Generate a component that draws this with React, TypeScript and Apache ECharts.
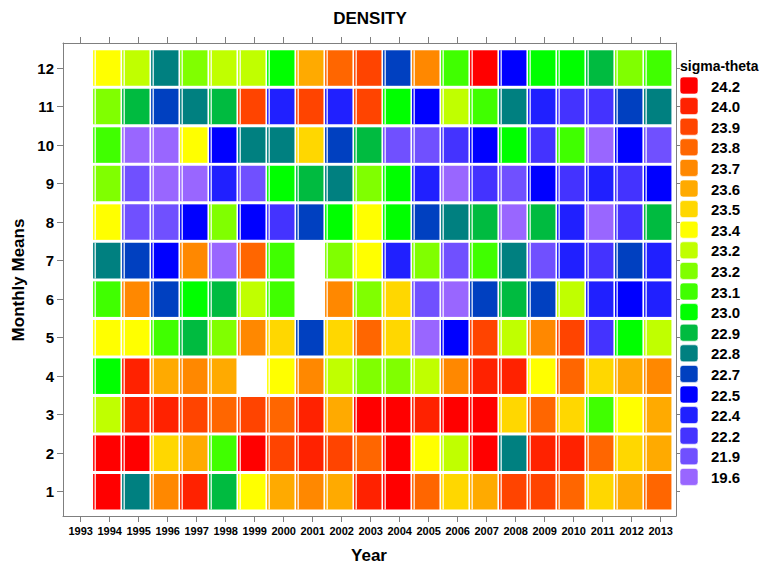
import React, { useEffect, useRef } from "react";
import * as echarts from "echarts";

// Years with data (the 1993 column is empty)
const years = [1994, 1995, 1996, 1997, 1998, 1999, 2000, 2001, 2002, 2003, 2004, 2005, 2006, 2007, 2008, 2009, 2010, 2011, 2012, 2013];
const months = [1, 2, 3, 4, 5, 6, 7, 8, 9, 10, 11, 12];
const xTickYears = [1993, 1994, 1995, 1996, 1997, 1998, 1999, 2000, 2001, 2002, 2003, 2004, 2005, 2006, 2007, 2008, 2009, 2010, 2011, 2012, 2013];

// sigma-theta classes (legend, top to bottom)
const legendLabels = ["24.2", "24.0", "23.9", "23.8", "23.7", "23.6", "23.5", "23.4", "23.2", "23.2", "23.1", "23.0", "22.9", "22.8", "22.7", "22.5", "22.4", "22.2", "21.9", "19.6"];
const levelValues = [24.2, 24.0, 23.9, 23.8, 23.7, 23.6, 23.5, 23.4, 23.25, 23.15, 23.1, 23.0, 22.9, 22.8, 22.7, 22.5, 22.4, 22.2, 21.9, 19.6];
const levelColors = ["#FF0000", "#FF2200", "#FF4400", "#FF6600", "#FF8800", "#FFAA00", "#FFD700", "#FFFF00", "#C0FF00", "#80FF00", "#40FF00", "#00FF00", "#00BB40", "#008080", "#0040C0", "#0000FF", "#2020FF", "#4433FF", "#7050FF", "#9966FF"];

// Monthly mean sigma-theta, one array per month, years 1994..2013
const m1 = [24.2, 22.8, 23.7, 24.0, 22.9, 23.4, 23.6, 23.7, 23.6, 24.0, 24.2, 23.8, 23.5, 23.6, 23.9, 23.9, 23.8, 23.5, 23.6, 23.8];
const m2 = [24.2, 24.2, 23.5, 23.6, 23.1, 24.2, 23.9, 24.0, 23.9, 23.8, 24.2, 23.4, 23.25, 24.2, 22.8, 24.0, 24.0, 23.8, 23.5, 23.6];
const m3 = [23.25, 24.0, 24.0, 23.9, 23.8, 23.9, 23.8, 24.0, 23.6, 24.2, 24.2, 24.0, 24.2, 24.2, 23.5, 23.8, 23.5, 23.1, 23.4, 23.6];
const m4 = [23.0, 24.0, 23.6, 23.7, 23.6, null, 23.4, 23.7, 23.25, 23.15, 23.15, 23.25, 23.7, 24.0, 24.0, 23.4, 23.8, 23.5, 23.6, 23.7];
const m5 = [23.4, 23.4, 23.1, 22.9, 23.15, 23.7, 23.5, 22.7, 23.5, 23.8, 23.5, 19.6, 22.5, 23.9, 23.25, 23.7, 23.9, 22.2, 23.0, 23.25];
const m6 = [23.1, 23.7, 22.7, 23.0, 22.9, 23.25, 23.1, null, 23.7, 23.15, 23.5, 21.9, 19.6, 22.7, 22.9, 22.7, 23.25, 22.4, 22.5, 22.4];
const m7 = [22.8, 22.7, 22.5, 23.7, 19.6, 23.8, 23.1, null, 23.15, 23.4, 22.4, 23.15, 21.9, 23.1, 22.8, 21.9, 22.4, 22.2, 22.7, 22.4];
const m8 = [23.4, 21.9, 21.9, 22.5, 23.15, 22.5, 22.2, 22.7, 23.0, 23.4, 23.0, 22.7, 22.8, 22.9, 19.6, 22.9, 22.4, 19.6, 22.2, 22.9];
const m9 = [23.15, 21.9, 19.6, 19.6, 22.4, 21.9, 23.0, 22.9, 22.8, 23.15, 23.0, 22.4, 19.6, 22.2, 21.9, 22.5, 22.2, 22.4, 22.2, 22.5];
const m10 = [23.1, 19.6, 19.6, 23.4, 22.5, 22.8, 22.8, 23.5, 22.7, 22.9, 21.9, 21.9, 22.2, 22.5, 23.0, 22.2, 23.1, 19.6, 22.5, 21.9];
const m11 = [23.15, 22.9, 22.7, 22.8, 22.9, 23.9, 22.4, 23.9, 22.4, 23.9, 23.0, 22.5, 23.25, 23.1, 22.8, 22.4, 22.2, 22.2, 22.7, 22.8];
const m12 = [23.4, 23.25, 22.8, 23.15, 23.25, 23.25, 23.0, 23.6, 23.8, 23.9, 22.7, 23.7, 23.1, 24.2, 22.5, 23.0, 23.0, 22.9, 23.15, 23.1];
const monthRows = [m1, m2, m3, m4, m5, m6, m7, m8, m9, m10, m11, m12];

const FONT = "'Liberation Sans', Arial, sans-serif";
const AXIS_GRAY = "#7f7f7f";

function colorFor(v: number): string {
  let best = 0;
  let bd = Infinity;
  levelValues.forEach((lv, i) => {
    const d = Math.abs(lv - v);
    if (d < bd) {
      bd = d;
      best = i;
    }
  });
  return levelColors[best];
}

export default function App() {
  const ref = useRef<HTMLDivElement>(null);

  useEffect(() => {
    if (!ref.current) return;
    const chart = echarts.init(ref.current, null, { renderer: "svg" });

    const data: number[][] = [];
    monthRows.forEach((row, mi) => {
      row.forEach((v, yi) => {
        if (v !== null && v !== undefined) data.push([years[yi], months[mi], v as number]);
      });
    });

    const legendGraphics: any[] = [];
    legendGraphics.push({
      type: "text",
      left: 680,
      top: 59,
      style: { text: "sigma-theta", font: `bold 14px ${FONT}`, fill: "#000" },
    });
    legendLabels.forEach((lab, i) => {
      const y0 = 77 + i * 20.6;
      legendGraphics.push({
        type: "rect",
        shape: { x: 680, y: y0, width: 18, height: 17, r: 3 },
        style: { fill: levelColors[i], stroke: "rgba(255,255,255,0.6)", lineWidth: 1 },
      });
      legendGraphics.push({
        type: "text",
        x: 711,
        y: y0 + 9,
        style: { text: lab, font: `bold 15px ${FONT}`, fill: "#000", textVerticalAlign: "middle", verticalAlign: "middle" },
      });
    });

    const axisCommon = {
      axisLine: { show: true, lineStyle: { color: AXIS_GRAY, width: 1 } },
      splitLine: { show: false },
    };

    const option: any = {
      animation: false,
      grid: { left: 63, right: 86, top: 43, bottom: 49, containLabel: false },
      xAxis: [
        {
          type: "value",
          position: "bottom",
          min: 1992.39,
          max: 2013.53,
          ...axisCommon,
          axisTick: { show: true, length: 6, lineStyle: { color: AXIS_GRAY }, customValues: xTickYears },
          axisLabel: {
            show: true,
            customValues: xTickYears,
            margin: 9,
            color: "#000",
            fontFamily: FONT,
            fontWeight: "bold",
            fontSize: 11,
            formatter: (v: number) => String(Math.round(v)),
          },
        },
        {
          type: "value",
          position: "top",
          min: 1992.39,
          max: 2013.53,
          ...axisCommon,
          axisTick: { show: true, length: 6, lineStyle: { color: AXIS_GRAY }, customValues: xTickYears },
          axisLabel: { show: false },
        },
      ],
      yAxis: [
        {
          type: "value",
          position: "left",
          min: 0.37,
          max: 12.65,
          ...axisCommon,
          axisTick: { show: true, length: 6, lineStyle: { color: AXIS_GRAY }, customValues: months },
          axisLabel: {
            show: true,
            customValues: months,
            margin: 9,
            color: "#000",
            fontFamily: FONT,
            fontWeight: "bold",
            fontSize: 15,
            formatter: (v: number) => String(Math.round(v)),
          },
        },
        {
          type: "value",
          position: "right",
          min: 0.37,
          max: 12.65,
          ...axisCommon,
          axisTick: { show: true, length: 4, lineStyle: { color: AXIS_GRAY }, customValues: months },
          axisLabel: { show: false },
        },
      ],
      series: [
        {
          type: "custom",
          xAxisIndex: 0,
          yAxisIndex: 0,
          data,
          encode: { x: 0, y: 1 },
          clip: true,
          renderItem: (params: any, api: any) => {
            const yr = api.value(0);
            const mo = api.value(1);
            const v = api.value(2);
            const p0 = api.coord([yr - 0.6, mo + 0.5]);
            const p1 = api.coord([yr + 0.4, mo - 0.5]);
            const g = api.coord([yr - 0.5, mo]);
            const top = p0[1] + 1.5;
            const bottom = p1[1] - 1.5;
            return {
              type: "group",
              children: [
                {
                  type: "rect",
                  shape: { x: p0[0] + 0.8, y: top, width: p1[0] - p0[0] - 1.6, height: bottom - top },
                  style: { fill: colorFor(v) },
                },
                {
                  type: "line",
                  shape: { x1: g[0], y1: top, x2: g[0], y2: bottom },
                  style: { stroke: "#ffffff", lineWidth: 1.2 },
                },
              ],
            };
          },
        },
      ],
      graphic: [
        {
          type: "text",
          x: 370,
          y: 18.5,
          style: { text: "DENSITY", font: `bold 17px ${FONT}`, fill: "#000", align: "center", verticalAlign: "middle" },
        },
        {
          type: "text",
          x: 369,
          y: 555,
          style: { text: "Year", font: `bold 17px ${FONT}`, fill: "#000", align: "center", verticalAlign: "middle" },
        },
        {
          type: "text",
          x: 18,
          y: 280,
          rotation: Math.PI / 2,
          style: { text: "Monthly Means", font: `bold 17px ${FONT}`, fill: "#000", align: "center", verticalAlign: "middle" },
        },
        ...legendGraphics,
      ],
    };

    chart.setOption(option);
    return () => chart.dispose();
  }, []);

  return <div ref={ref} style={{ width: 762, height: 565, position: "absolute", left: 0, top: 0 }} />;
}
